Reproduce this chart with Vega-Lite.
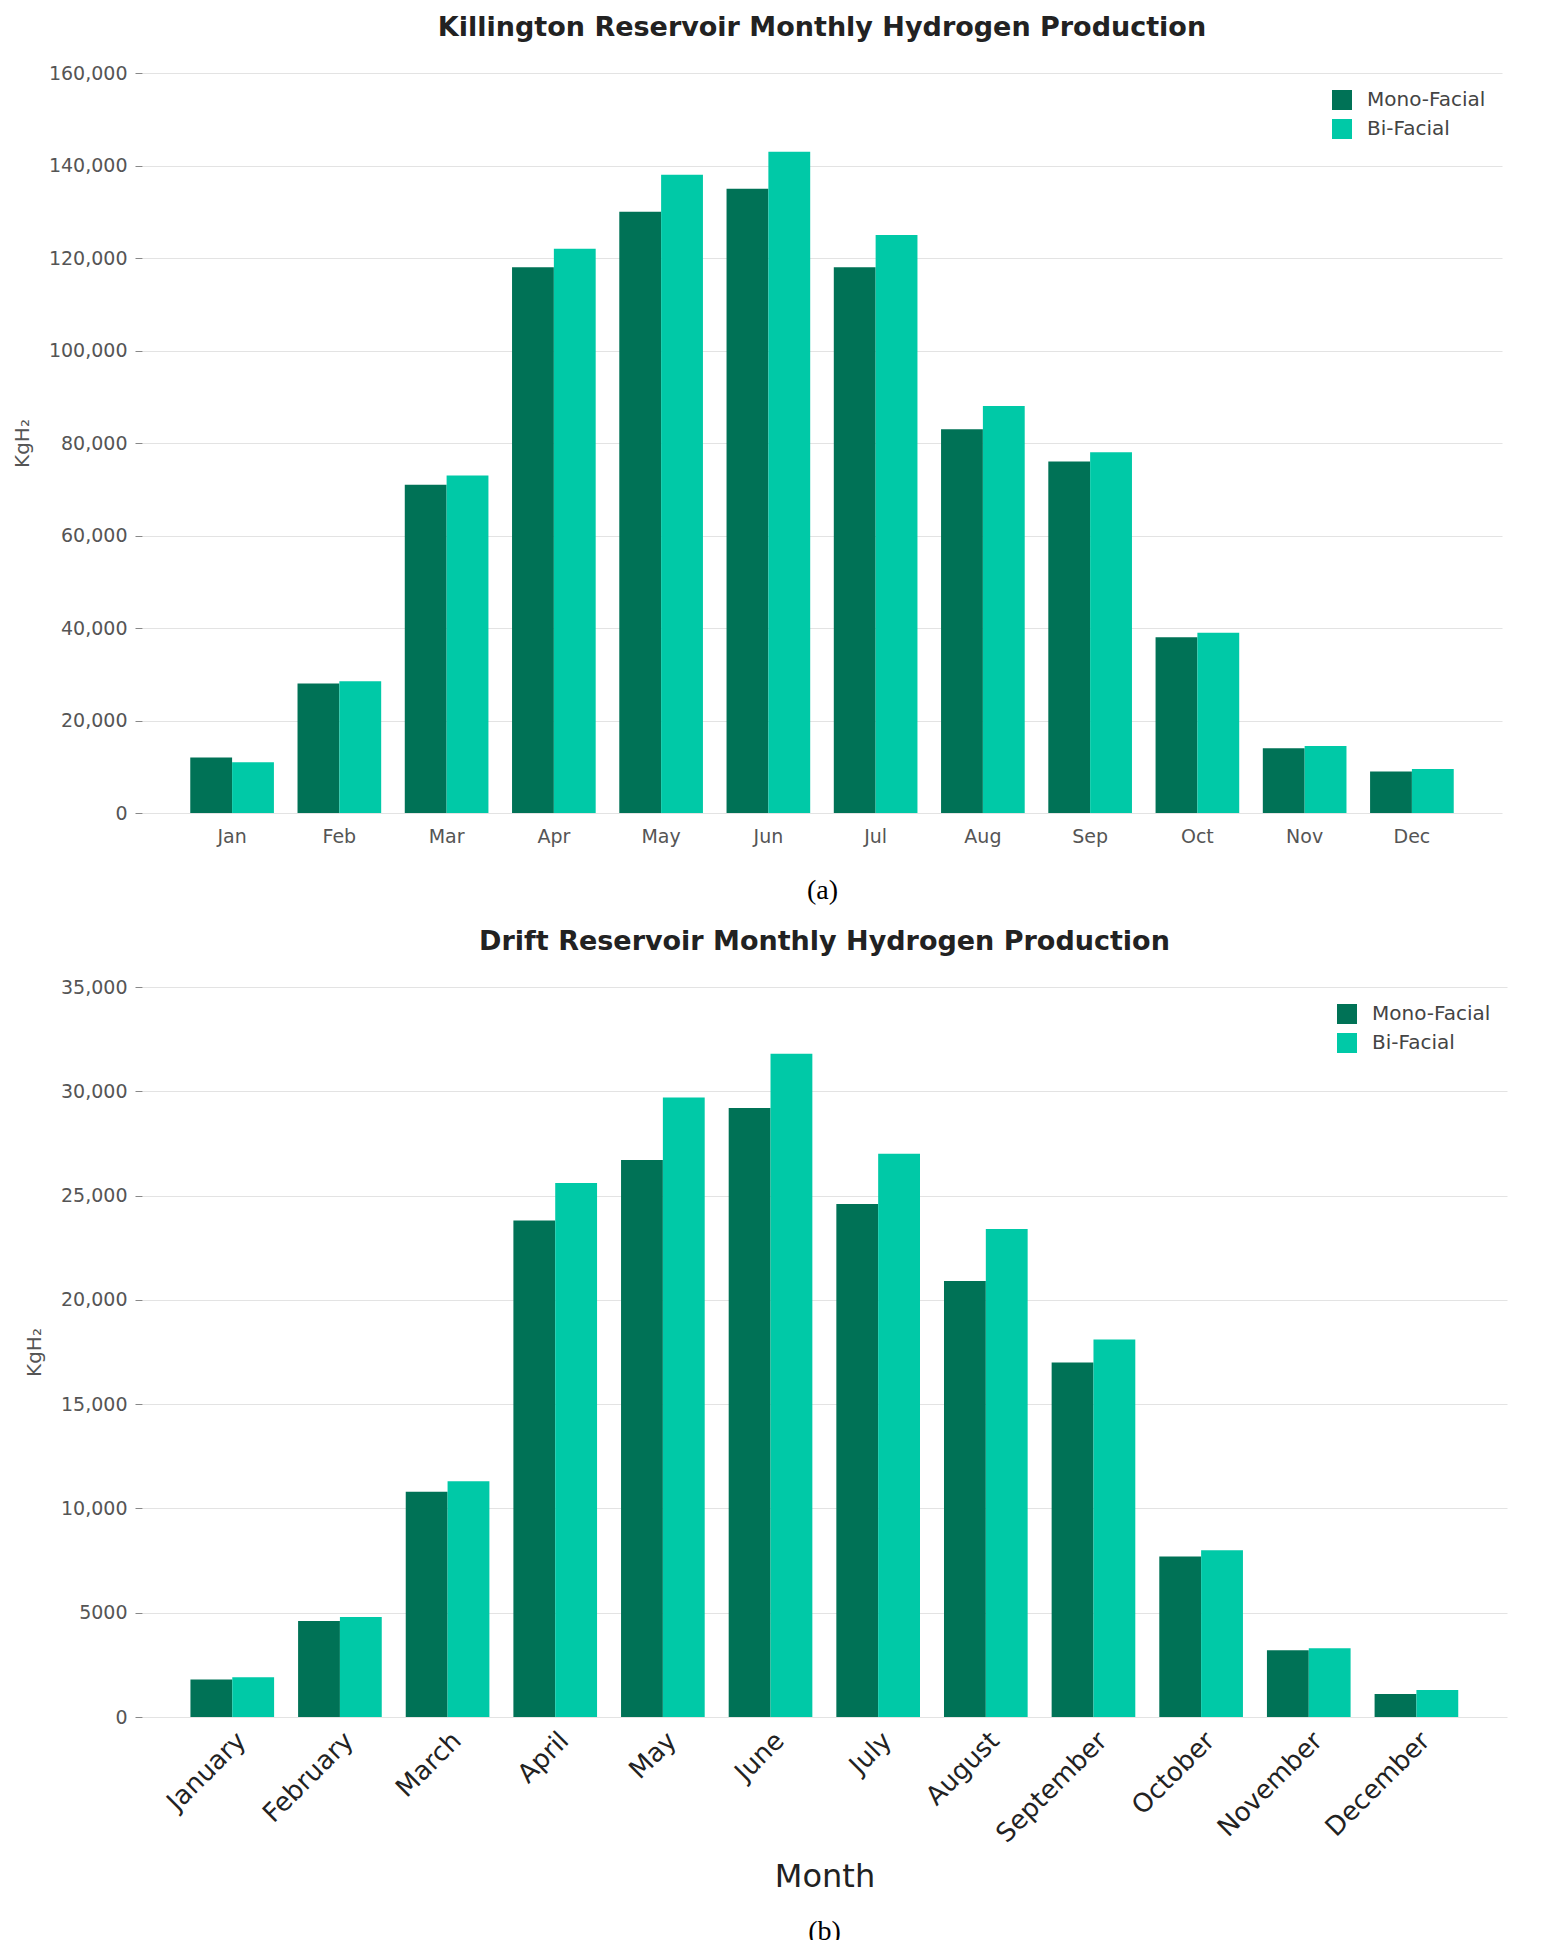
{
  "$schema": "https://vega.github.io/schema/vega-lite/v6.json",
  "background": "white",
  "padding": {"left": 12, "top": 14, "right": 10, "bottom": 5},
  "config": {
    "font": "DejaVu Sans",
    "view": {"stroke": null},
    "axis": {"labelColor": "#555", "labelFontSize": 19, "titleColor": "#555", "titleFontWeight": "normal", "gridColor": "#e3e3e3", "domain": false, "tickColor": "#888"},
    "title": {"fontSize": 27, "color": "#222", "fontWeight": "bold"}
  },
  "datasets": {
    "killington": [
      {"month": "Jan", "type": "Mono-Facial", "value": 12000}, {"month": "Jan", "type": "Bi-Facial", "value": 11000},
      {"month": "Feb", "type": "Mono-Facial", "value": 28000}, {"month": "Feb", "type": "Bi-Facial", "value": 28500},
      {"month": "Mar", "type": "Mono-Facial", "value": 71000}, {"month": "Mar", "type": "Bi-Facial", "value": 73000},
      {"month": "Apr", "type": "Mono-Facial", "value": 118000}, {"month": "Apr", "type": "Bi-Facial", "value": 122000},
      {"month": "May", "type": "Mono-Facial", "value": 130000}, {"month": "May", "type": "Bi-Facial", "value": 138000},
      {"month": "Jun", "type": "Mono-Facial", "value": 135000}, {"month": "Jun", "type": "Bi-Facial", "value": 143000},
      {"month": "Jul", "type": "Mono-Facial", "value": 118000}, {"month": "Jul", "type": "Bi-Facial", "value": 125000},
      {"month": "Aug", "type": "Mono-Facial", "value": 83000}, {"month": "Aug", "type": "Bi-Facial", "value": 88000},
      {"month": "Sep", "type": "Mono-Facial", "value": 76000}, {"month": "Sep", "type": "Bi-Facial", "value": 78000},
      {"month": "Oct", "type": "Mono-Facial", "value": 38000}, {"month": "Oct", "type": "Bi-Facial", "value": 39000},
      {"month": "Nov", "type": "Mono-Facial", "value": 14000}, {"month": "Nov", "type": "Bi-Facial", "value": 14500},
      {"month": "Dec", "type": "Mono-Facial", "value": 9000}, {"month": "Dec", "type": "Bi-Facial", "value": 9500}
    ],
    "drift": [
      {"month": "January", "type": "Mono-Facial", "value": 1800}, {"month": "January", "type": "Bi-Facial", "value": 1900},
      {"month": "February", "type": "Mono-Facial", "value": 4600}, {"month": "February", "type": "Bi-Facial", "value": 4800},
      {"month": "March", "type": "Mono-Facial", "value": 10800}, {"month": "March", "type": "Bi-Facial", "value": 11300},
      {"month": "April", "type": "Mono-Facial", "value": 23800}, {"month": "April", "type": "Bi-Facial", "value": 25600},
      {"month": "May", "type": "Mono-Facial", "value": 26700}, {"month": "May", "type": "Bi-Facial", "value": 29700},
      {"month": "June", "type": "Mono-Facial", "value": 29200}, {"month": "June", "type": "Bi-Facial", "value": 31800},
      {"month": "July", "type": "Mono-Facial", "value": 24600}, {"month": "July", "type": "Bi-Facial", "value": 27000},
      {"month": "August", "type": "Mono-Facial", "value": 20900}, {"month": "August", "type": "Bi-Facial", "value": 23400},
      {"month": "September", "type": "Mono-Facial", "value": 17000}, {"month": "September", "type": "Bi-Facial", "value": 18100},
      {"month": "October", "type": "Mono-Facial", "value": 7700}, {"month": "October", "type": "Bi-Facial", "value": 8000},
      {"month": "November", "type": "Mono-Facial", "value": 3200}, {"month": "November", "type": "Bi-Facial", "value": 3300},
      {"month": "December", "type": "Mono-Facial", "value": 1100}, {"month": "December", "type": "Bi-Facial", "value": 1300}
    ],
    "caption": [{"label": "(b)"}]
  },
  "vconcat": [
    {
      "title": {"text": "Killington Reservoir Monthly Hydrogen Production", "offset": 22},
      "width": 1360,
      "height": 740,
      "data": {"name": "killington"},
      "mark": {"type": "bar"},
      "encoding": {
        "x": {"field": "month", "type": "nominal", "sort": null, "scale": {"paddingInner": 0.22, "paddingOuter": 0.45},
          "axis": {"labelAngle": 0, "ticks": false, "labelPadding": 14, "title": "(a)", "titleFont": "Liberation Serif", "titleFontSize": 28, "titleColor": "#000", "titlePadding": 30}},
        "xOffset": {"field": "type", "sort": ["Mono-Facial", "Bi-Facial"]},
        "y": {"field": "value", "type": "quantitative", "scale": {"domain": [0, 160000]},
          "axis": {"tickCount": 8, "format": ",d", "title": "KgH₂", "titleFontSize": 20, "titlePadding": 16, "labelPadding": 8, "tickSize": 7}},
        "color": {"field": "type", "type": "nominal", "sort": ["Mono-Facial", "Bi-Facial"],
          "scale": {"domain": ["Mono-Facial", "Bi-Facial"], "range": ["#007256", "#00c9a7"]},
          "legend": {"title": null, "orient": "top-right", "labelFontSize": 20, "labelColor": "#444", "symbolType": "square", "symbolSize": 400, "rowPadding": 8, "labelOffset": 14, "offset": 16}}
      }
    },
    {
      "title": {"text": "Drift Reservoir Monthly Hydrogen Production", "offset": 22},
      "width": 1365,
      "height": 730,
      "data": {"name": "drift"},
      "mark": {"type": "bar"},
      "encoding": {
        "x": {"field": "month", "type": "nominal", "sort": null, "scale": {"paddingInner": 0.22, "paddingOuter": 0.45},
          "axis": {"labelAngle": -45, "ticks": false, "labelFontSize": 26, "labelColor": "#222", "labelPadding": 10, "title": "Month", "titleFontSize": 32, "titleColor": "#222", "titlePadding": 14}},
        "xOffset": {"field": "type", "sort": ["Mono-Facial", "Bi-Facial"]},
        "y": {"field": "value", "type": "quantitative", "scale": {"domain": [0, 35000]},
          "axis": {"values": [0, 5000, 10000, 15000, 20000, 25000, 30000, 35000], "labelExpr": "datum.value < 10000 ? datum.value + '' : format(datum.value, ',d')", "title": "KgH₂", "titleFontSize": 20, "titlePadding": 16, "labelPadding": 8, "tickSize": 7}},
        "color": {"field": "type", "type": "nominal", "sort": ["Mono-Facial", "Bi-Facial"],
          "scale": {"domain": ["Mono-Facial", "Bi-Facial"], "range": ["#007256", "#00c9a7"]},
          "legend": {"title": null, "orient": "top-right", "labelFontSize": 20, "labelColor": "#444", "symbolType": "square", "symbolSize": 400, "rowPadding": 8, "labelOffset": 14, "offset": 16}}
      }
    },
    {
      "width": 1365,
      "height": 30,
      "data": {"name": "caption"},
      "mark": {"type": "text", "font": "Liberation Serif", "fontSize": 28, "color": "#000"},
      "encoding": {"text": {"field": "label"}}
    }
  ],
  "spacing": 24,
  "resolve": {"scale": {"color": "shared"}, "legend": {"color": "independent"}}
}
